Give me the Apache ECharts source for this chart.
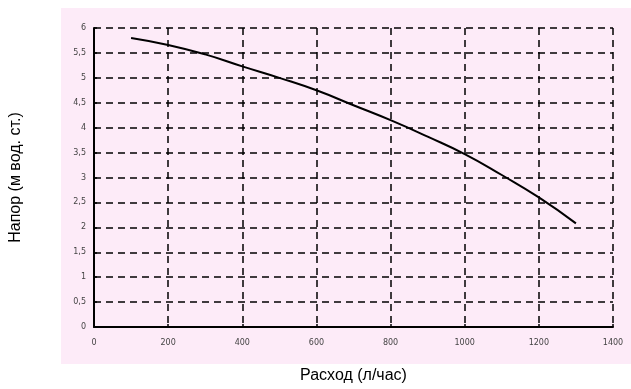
<!DOCTYPE html>
<html>
<head>
<meta charset="utf-8">
<script src="https://cdn.jsdelivr.net/npm/echarts@6/dist/echarts.min.js"></script>
<style>
  html, body { margin: 0; padding: 0; background: #fff; }
  #chart { width: 631px; height: 389px; }
</style>
</head>
<body>
<div id="chart"></div>
<script>
// pump curve: flow (l/h) vs head (m)
const flow = [100, 200, 300, 400, 500, 600, 700, 800, 900, 1000, 1100, 1200, 1300]
const head = [5.8, 5.66, 5.47, 5.23, 5.0, 4.75, 4.45, 4.15, 3.82, 3.47, 3.05, 2.6, 2.08]
const xTicks = [0, 200, 400, 600, 800, 1000, 1200, 1400]
const yTicks = [0, 0.5, 1, 1.5, 2, 2.5, 3, 3.5, 4, 4.5, 5, 5.5, 6]

const chart = echarts.init(document.getElementById('chart'))

const dashed = { color: '#000', type: [7, 5], width: 1.5 }

chart.setOption({
  animation: false,
  graphic: [{
    type: 'rect',
    z: -10,
    shape: { x: 61, y: 8, width: 570, height: 356 },
    style: { fill: '#fdebf8' },
    silent: true
  }],
  grid: { left: 93, right: 18, top: 28, bottom: 60 },
  xAxis: {
    type: 'value',
    min: xTicks[0],
    max: xTicks[xTicks.length - 1],
    interval: 200,
    name: 'Расход (л/час)',
    nameLocation: 'middle',
    nameGap: 41,
    nameTextStyle: { fontFamily: 'Liberation Sans', fontSize: 16, color: '#000' },
    axisLine: { show: true, lineStyle: { color: '#000', width: 2 } },
    axisTick: { show: true, length: 3, inside: true, lineStyle: { color: '#000', width: 1.5 } },
    axisLabel: { fontFamily: 'DejaVu Sans', fontSize: 8, color: '#444', margin: 12, formatter: v => String(v) },
    splitLine: { show: true, lineStyle: dashed }
  },
  yAxis: {
    type: 'value',
    min: yTicks[0],
    max: yTicks[yTicks.length - 1],
    interval: 0.5,
    name: 'Напор (м вод. ст.)',
    nameLocation: 'middle',
    nameGap: 70,
    nameTextStyle: { fontFamily: 'Liberation Sans', fontSize: 16, color: '#000' },
    axisLine: { show: true, lineStyle: { color: '#000', width: 2 } },
    axisTick: { show: true, length: 3, inside: true, lineStyle: { color: '#000', width: 1.5 } },
    axisLabel: {
      fontFamily: 'DejaVu Sans', fontSize: 8, color: '#444', margin: 8,
      formatter: v => String(v).replace('.', ',')
    },
    splitLine: { show: true, lineStyle: dashed }
  },
  series: [{
    type: 'line',
    data: flow.map((q, i) => [q, head[i]]),
    smooth: true,
    showSymbol: false,
    lineStyle: { color: '#000', width: 2 }
  }]
})
</script>
</body>
</html>
